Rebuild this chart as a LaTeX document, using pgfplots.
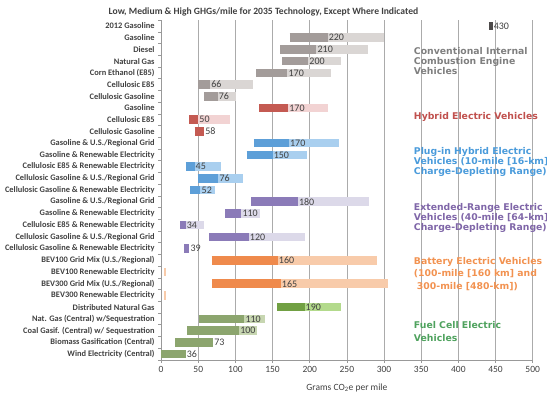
\documentclass[border=0pt]{standalone}
\usepackage{pgfplots}
\pgfplotsset{compat=1.18}
\usepackage{pgfplotstable}
\usepackage{fontspec}
\setmainfont{Carlito}
\newfontfamily\dejavu{DejaVu Sans}

\definecolor{icedark}{HTML}{A39C9A}
\definecolor{icelight}{HTML}{DAD6D4}
\definecolor{icebase}{HTML}{4D4A4A}
\definecolor{hevdark}{HTML}{C45A52}
\definecolor{hevlight}{HTML}{F2D3D3}
\definecolor{phevdark}{HTML}{5D9FD8}
\definecolor{phevlight}{HTML}{A9CFEF}
\definecolor{erevdark}{HTML}{8B7BB8}
\definecolor{erevlight}{HTML}{DCD9E9}
\definecolor{bevdark}{HTML}{EF8A4C}
\definecolor{bevlight}{HTML}{F8CBAA}
\definecolor{fcadark}{HTML}{71A043}
\definecolor{fcalight}{HTML}{B3DA8C}
\definecolor{fcbdark}{HTML}{8CA56E}
\definecolor{fcblight}{HTML}{C7D6B1}
\definecolor{iceT}{HTML}{7F7F7F}
\definecolor{hevT}{HTML}{C0504D}
\definecolor{phevT}{HTML}{4A9BDB}
\definecolor{erevT}{HTML}{7F66A8}
\definecolor{bevT}{HTML}{F29250}
\definecolor{fcT}{HTML}{4FA25E}
\definecolor{txt}{HTML}{404040}
\definecolor{gridc}{HTML}{ABABAB}

% y: 28 = top row (2012 Gasoline), 0 = bottom row (Wind Electricity)
\pgfplotstableread{
y low med high lab
28 441 446 446 430
}\tIceBase
\pgfplotstableread{
y low med high lab
27 173 224 300 220
26 160 209 279 210
25 163 198 242 200
24 128 170 228 170
23 50 66 124 66
22 58 76 101 76
}\tIce
\pgfplotstableread{
y low med high lab
21 132 171 225 170
20 38 50 93 50
19 45 58 58 58
}\tHev
\pgfplotstableread{
y low med high lab
18 125 172 239 170
17 115 150 196 150
16 33 45 81 45
15 49 77 110 76
14 39 53 72 52
}\tPhev
\pgfplotstableread{
y low med high lab
13 121 184 280 180
12 86 108 133 110
11 26 33 58 34
10 65 118 194 120
9 31 38 38 39
}\tErev
\pgfplotstableread{
y low med high lab
8 68 157 290 160
6 69 161 305 165
}\tBev
\pgfplotstableread{
y low med high
7 4 4 7
5 4 4 7
}\tBevRen
\pgfplotstableread{
y low med high lab
4 156 193 242 190
}\tFcA
\pgfplotstableread{
y low med high lab
3 51 112 140 110
2 35 105 129 100
1 19 70 70 73
0 0 33 33 36
}\tFcB

\newcommand{\rangebars}[3]{%
  \addplot[draw=none, mark=none, forget plot,
    error bars/.cd, x dir=plus, x explicit, error mark=none,
    error bar style={line width=8.5pt, draw=#2, solid}]
    table[x=low, y=y, x error plus expr=\thisrow{med}-\thisrow{low}] {#1};
  \addplot[draw=none, mark=none, forget plot,
    error bars/.cd, x dir=plus, x explicit, error mark=none,
    error bar style={line width=8.5pt, draw=#3, solid}]
    table[x=med, y=y, x error plus expr=\thisrow{high}-\thisrow{med}] {#1};
}
\newcommand{\rangelabels}[1]{%
  \addplot[draw=none, mark=none, forget plot,
    nodes near coords, point meta=explicit symbolic,
    nodes near coords align=horizontal,
    every node near coord/.append style={anchor=west, inner sep=1pt,
      font=\fontsize{10}{12}\selectfont, text=txt}]
    table[x=med, y=y, meta=lab] {#1};
}

\tikzset{grp/.style={anchor=north west, align=left, inner sep=0pt}}

\begin{document}
\begin{tikzpicture}
\begin{axis}[
  name=ax,
  scale only axis, width=371.6pt, height=339.8pt,
  xmin=0, xmax=500, ymin=-0.5, ymax=28.5,
  clip=false,
  xtick={0,50,...,500},
  ytick={0,...,28},
  yticklabels={Wind Electricity (Central), Biomass Gasification (Central),
    Coal Gasif. (Central) w/ Sequestration, Nat. Gas (Central) w/Sequestration,
    Distributed Natural Gas, BEV300 Renewable Electricity, BEV300 Grid Mix (U.S./Regional),
    BEV100 Renewable Electricity, BEV100 Grid Mix (U.S./Regional),
    Cellulosic Gasoline \& Renewable Electricity, Cellulosic Gasoline \& U.S./Regional Grid,
    Cellulosic E85 \& Renewable Electricity, Gasoline \& Renewable Electricity,
    Gasoline \& U.S./Regional Grid,
    Cellulosic Gasoline \& Renewable Electricity, Cellulosic Gasoline \& U.S./Regional Grid,
    Cellulosic E85 \& Renewable Electricity, Gasoline \& Renewable Electricity,
    Gasoline \& U.S./Regional Grid,
    Cellulosic Gasoline, Cellulosic E85, Gasoline,
    Cellulosic Gasoline, Cellulosic E85, Corn Ethanol (E85), Natural Gas, Diesel,
    Gasoline, 2012 Gasoline},
  minor ytick={-0.5,0.5,...,28.5},
  axis x line*=bottom, axis y line*=left,
  axis line style={draw=gray!80, line width=0.6pt},
  tick align=outside,
  major tick length=3pt, minor tick length=3pt,
  tick style={draw=gray!80, line width=0.6pt},
  major y tick style={draw=none},
  xmajorgrids, grid style={draw=gridc, line width=0.5pt},
  x tick label style={font=\fontsize{9.5}{11}\selectfont, text=txt},
  y tick label style={font=\bfseries\fontsize{8.4}{10}\selectfont, text=txt},
  /pgf/number format/assume math mode=true,
  xlabel={Grams CO\textsubscript{2}e per mile},
  xlabel style={font=\fontsize{9.5}{11}\selectfont, text=txt,
    at={(axis description cs:0.5,0)}, anchor=center, yshift=-28pt},
]
\rangebars{\tIceBase}{icebase}{icebase}
\rangebars{\tIce}{icedark}{icelight}
\rangebars{\tHev}{hevdark}{hevlight}
\rangebars{\tPhev}{phevdark}{phevlight}
\rangebars{\tErev}{erevdark}{erevlight}
\rangebars{\tBev}{bevdark}{bevlight}
\rangebars{\tBevRen}{bevlight}{bevlight}
\rangebars{\tFcA}{fcadark}{fcalight}
\rangebars{\tFcB}{fcbdark}{fcblight}
\rangelabels{\tIceBase}
\rangelabels{\tIce}
\rangelabels{\tHev}
\rangelabels{\tPhev}
\rangelabels{\tErev}
\rangelabels{\tBev}
\rangelabels{\tFcA}
\rangelabels{\tFcB}

\node[grp, text=iceT, font=\dejavu\bfseries\fontsize{9.3}{10}\selectfont]
  at (axis cs:340,26.2) {Conventional Internal\\Combustion Engine\\Vehicles};
\node[grp, text=hevT, font=\dejavu\bfseries\fontsize{9.3}{10}\selectfont]
  at (axis cs:340,20.65) {Hybrid Electric Vehicles};
\node[grp, text=phevT, font=\dejavu\bfseries\fontsize{9.3}{10}\selectfont]
  at (axis cs:340,17.67) {Plug-in Hybrid Electric\\Vehicles (10-mile [16-km]\\Charge-Depleting Range)};
\node[grp, text=erevT, font=\dejavu\bfseries\fontsize{9.3}{10.2}\selectfont]
  at (axis cs:340,12.9) {Extended-Range Electric\\Vehicles (40-mile [64-km]\\Charge-Depleting Range)};
\node[grp, text=bevT, font=\dejavu\bfseries\fontsize{9.3}{12.7}\selectfont]
  at (axis cs:340,8.3) {Battery Electric Vehicles\\(100-mile [160 km] and\\\hspace*{3pt}300-mile [480-km])};
\node[grp, text=fcT, font=\dejavu\bfseries\fontsize{9.3}{13.3}\selectfont]
  at (axis cs:340,2.8) {Fuel Cell Electric\\Vehicles};
\end{axis}
\node[font=\bfseries\fontsize{9.6}{11}\selectfont, text=txt]
  at ([shift={(102.4pt,8.1pt)}]ax.north west)
  {Low, Medium \& High GHGs/mile for 2035 Technology, Except Where Indicated};
\pgfresetboundingbox
\path ([shift={(-161.1pt,-33.1pt)}]ax.south west) rectangle ++(547pt,393pt);
\end{tikzpicture}
\end{document}
